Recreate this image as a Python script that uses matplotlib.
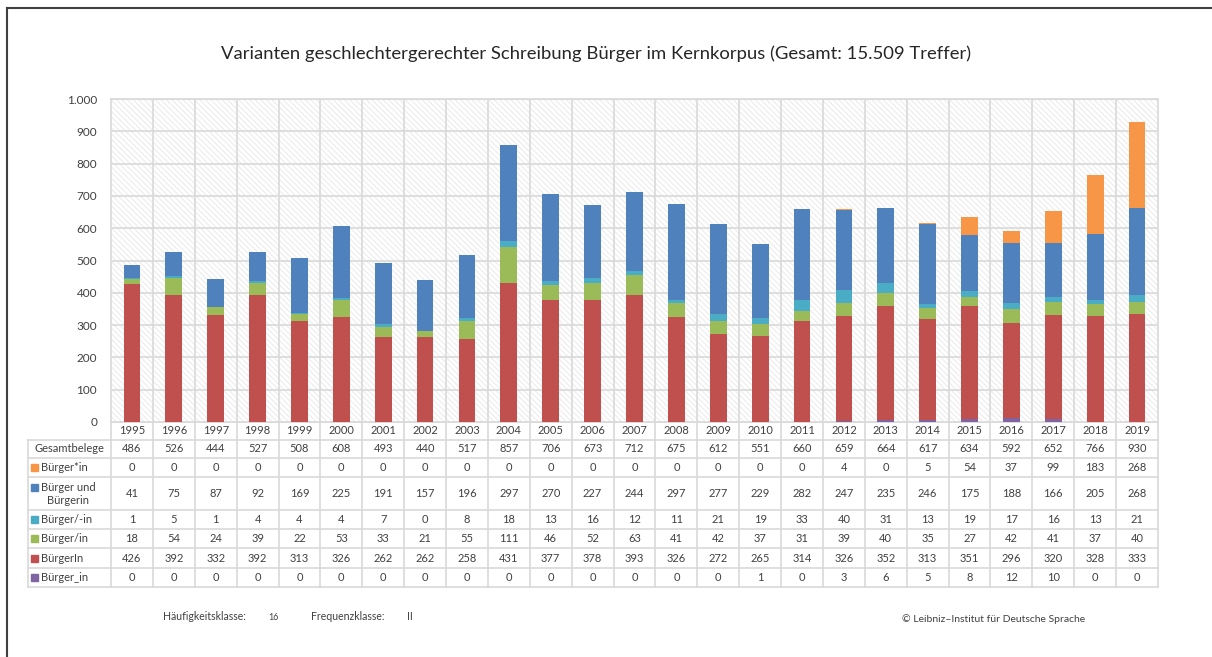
import matplotlib
matplotlib.use("Agg")
import matplotlib.pyplot as plt
import numpy as np

plt.rcParams["font.family"] = ["Lato", "DejaVu Sans"]
plt.rcParams["hatch.linewidth"] = 0.8

# ---------------------------------------------------------------------------
# Daten (aus der Tabelle unter dem Diagramm abgelesen)
# ---------------------------------------------------------------------------
jahre = [str(j) for j in range(1995, 2020)]
gesamt = [486, 526, 444, 527, 508, 608, 493, 440, 517, 857, 706, 673, 712,
          675, 612, 551, 660, 659, 664, 617, 634, 592, 652, 766, 930]
stern = [0, 0, 0, 0, 0, 0, 0, 0, 0, 0, 0, 0, 0,
         0, 0, 0, 0, 4, 0, 5, 54, 37, 99, 183, 268]
und = [41, 75, 87, 92, 169, 225, 191, 157, 196, 297, 270, 227, 244,
       297, 277, 229, 282, 247, 235, 246, 175, 188, 166, 205, 268]
strich_in = [1, 5, 1, 4, 4, 4, 7, 0, 8, 18, 13, 16, 12,
             11, 21, 19, 33, 40, 31, 13, 19, 17, 16, 13, 21]
slash_in = [18, 54, 24, 39, 22, 53, 33, 21, 55, 111, 46, 52, 63,
            41, 42, 37, 31, 39, 40, 35, 27, 42, 41, 37, 40]
binnen_i = [426, 392, 332, 392, 313, 326, 262, 262, 258, 431, 377, 378, 393,
            326, 272, 265, 314, 326, 352, 313, 351, 296, 320, 328, 333]
unterstrich = [0, 0, 0, 0, 0, 0, 0, 0, 0, 0, 0, 0, 0,
               0, 0, 1, 0, 3, 6, 5, 8, 12, 10, 0, 0]

# Reihenfolge der Tabelle (oben -> unten)
serien = [
    ("Bürger*in", stern, "#F79646"),
    ("Bürger und\nBürgerin", und, "#4F81BD"),
    ("Bürger/-in", strich_in, "#4BACC6"),
    ("Bürger/in", slash_in, "#9BBB59"),
    ("BürgerIn", binnen_i, "#C0504D"),
    ("Bürger_in", unterstrich, "#8064A2"),
]

# ---------------------------------------------------------------------------
# Layout (Pixel)
# ---------------------------------------------------------------------------
W_PX, H_PX = 1212, 657
X0, X1 = 111, 1158
Y_TOP, Y_NULL = 99, 422
ZEILEN_Y = [422, 440, 458, 477, 510, 529, 548, 568, 587]
TAB_LINKS = 28
TXT = "#404040"
GRID = "#d9d9d9"

fig = plt.figure(figsize=(W_PX / 100, H_PX / 100), dpi=100)

# Hintergrund-Ebene für Tabelle, Rahmen und Texte
ov = fig.add_axes([0, 0, 1, 1], zorder=0)
ov.set_xlim(0, W_PX)
ov.set_ylim(H_PX, 0)
ov.axis("off")

ax = fig.add_axes([X0 / W_PX, 1 - Y_NULL / H_PX, (X1 - X0) / W_PX,
                   (Y_NULL - Y_TOP) / H_PX], zorder=1)

n = len(jahre)
x = np.arange(n)

# Schraffierter Hintergrund (fein, hellgrau)
ax.patch.set_facecolor("white")
ax.patch.set_hatch("\\\\\\\\\\\\")
ax.patch.set_edgecolor("#ececec")

# Gestapelte Balken (unten -> oben)
unten = np.zeros(n)
for name, werte, farbe in reversed(serien):
    ax.bar(x, werte, width=0.4, bottom=unten, color=farbe, zorder=3)
    unten += np.array(werte)

ax.set_xlim(-0.5, n - 0.5)
ax.set_ylim(0, 1000)
ax.set_yticks(range(0, 1001, 100))
ax.set_yticklabels(["1.000" if v == 1000 else str(v) for v in range(0, 1001, 100)])
ax.tick_params(axis="y", length=0, pad=10, labelsize=8.5, labelcolor=TXT)
ax.set_xticks([])
for v in range(100, 1001, 100):
    ax.axhline(v, color=GRID, lw=1.2, zorder=1)
for k in range(1, n):
    ax.axvline(k - 0.5, color=GRID, lw=1.2, zorder=1)
for s in ax.spines.values():
    s.set_color(GRID)
    s.set_linewidth(1.2)

# ---------------------------------------------------------------------------
# Datentabelle
# ---------------------------------------------------------------------------
spalte = (X1 - X0) / n
grenzen_x = [X0 + k * spalte for k in range(n + 1)]

for i, yy in enumerate(ZEILEN_Y):
    links = X0 if i == 0 else TAB_LINKS
    ov.plot([links, X1], [yy, yy], color=GRID, lw=1.2)
for gx in grenzen_x:
    ov.plot([gx, gx], [ZEILEN_Y[0], ZEILEN_Y[-1]], color=GRID, lw=1.2)
ov.plot([TAB_LINKS, TAB_LINKS], [ZEILEN_Y[1], ZEILEN_Y[-1]], color=GRID, lw=1.2)

def mitte(i):
    return (ZEILEN_Y[i] + ZEILEN_Y[i + 1]) / 2

for k, jahr in enumerate(jahre):
    cx = X0 + (k + 0.5) * spalte
    ov.text(cx, mitte(0), jahr, ha="center", va="center", fontsize=8, color=TXT)
    ov.text(cx, mitte(1), str(gesamt[k]), ha="center", va="center", fontsize=8, color=TXT)
    for r, (name, werte, farbe) in enumerate(serien):
        ov.text(cx, mitte(r + 2), str(werte[k]), ha="center", va="center",
                fontsize=8, color=TXT)

ov.text((TAB_LINKS + X0) / 2, mitte(1), "Gesamtbelege", ha="center", va="center",
        fontsize=8, color=TXT)
for r, (name, werte, farbe) in enumerate(serien):
    cy = mitte(r + 2)
    if "\n" in name:
        oben, unten_txt = name.split("\n")
        ov.add_patch(plt.Rectangle((31, cy - 9.5), 7, 7, color=farbe))
        ov.text(41, cy - 6, oben, ha="left", va="center", fontsize=8, color=TXT)
        ov.text(47, cy + 7, unten_txt, ha="left", va="center", fontsize=8, color=TXT)
    else:
        ov.add_patch(plt.Rectangle((31, cy - 3.5), 7, 7, color=farbe))
        ov.text(41, cy, name, ha="left", va="center", fontsize=8, color=TXT)

# ---------------------------------------------------------------------------
# Titel, Fußzeile, Rahmen
# ---------------------------------------------------------------------------
ov.text(596, 54, "Varianten geschlechtergerechter Schreibung Bürger im Kernkorpus "
        "(Gesamt: 15.509 Treffer)", ha="center", va="center", fontsize=13.3, color="#262626")
ov.text(163, 617, "Häufigkeitsklasse:", ha="left", va="center", fontsize=7.6, color=TXT)
ov.text(268, 617, "16", ha="left", va="center", fontsize=6.3, color=TXT)
ov.text(311, 617, "Frequenzklasse:", ha="left", va="center", fontsize=7.6, color=TXT)
ov.text(407, 617, "II", ha="left", va="center", fontsize=7.6, color=TXT)
ov.text(902, 619, "© Leibniz–Institut für Deutsche Sprache", ha="left", va="center",
        fontsize=7.5, color=TXT)

ov.plot([7, 7], [8, H_PX], color="#404040", lw=1.5)
ov.plot([7, W_PX], [8, 8], color="#404040", lw=1.5)

fig.savefig("out.png", dpi=100)
